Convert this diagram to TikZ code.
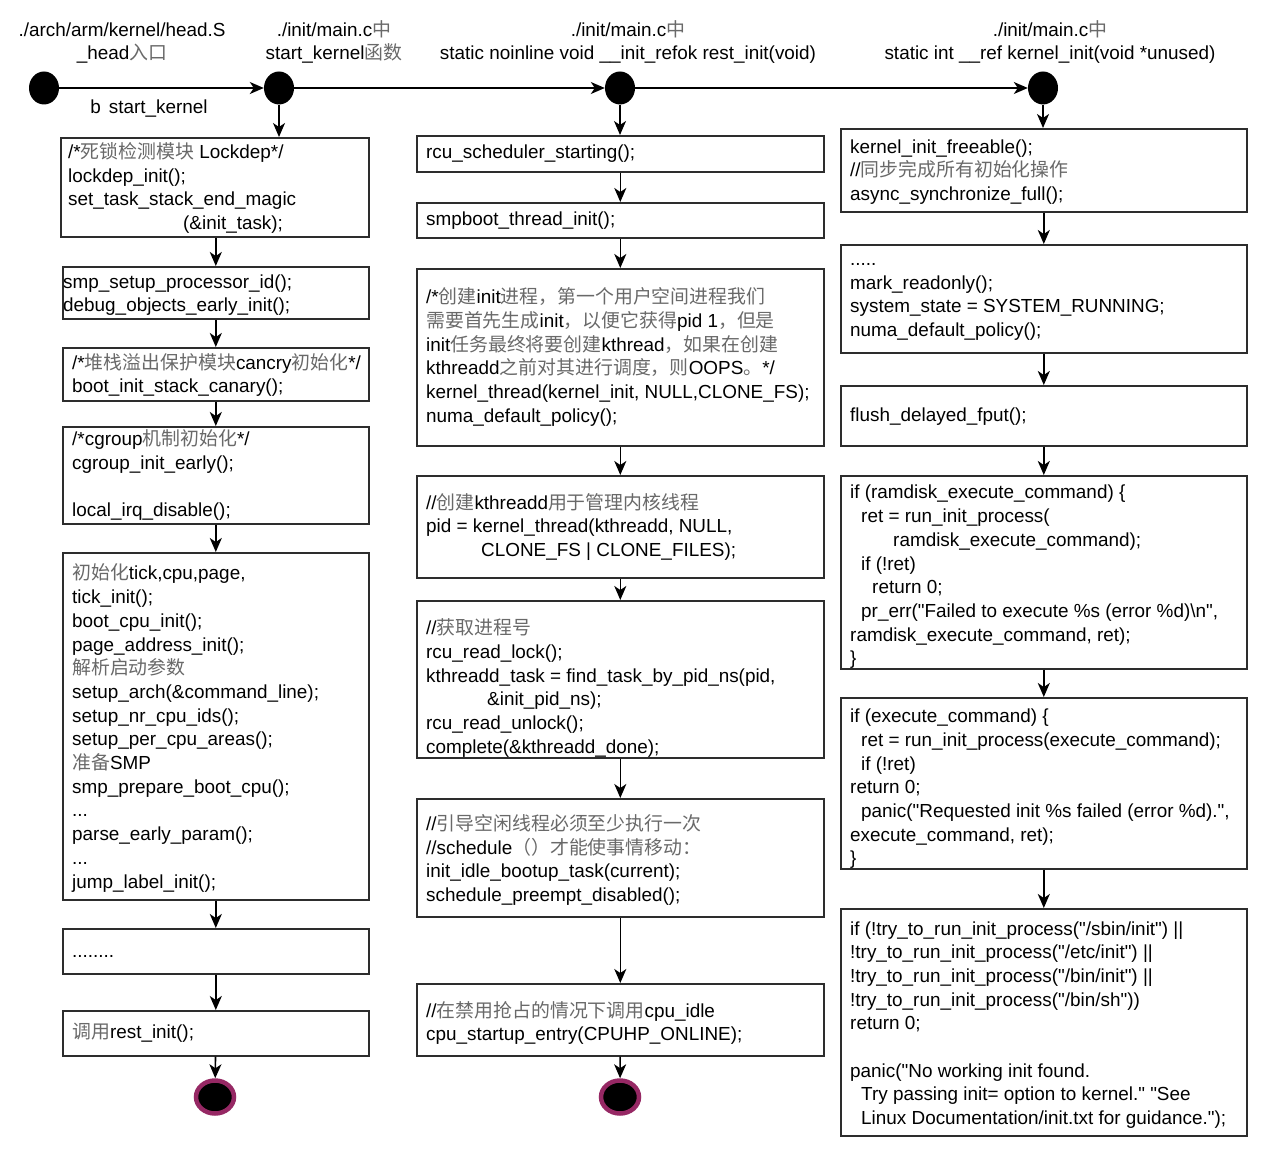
\documentclass[tikz,border=0pt]{standalone}
\usepackage{fontspec}
\newfontfamily\codef{Liberation Sans}
\newfontfamily\cjkf{Noto Sans CJK SC}
\usetikzlibrary{arrows.meta,shapes.geometric}
\definecolor{zhgray}{RGB}{105,105,105}
\definecolor{edgec}{RGB}{45,45,45}
\definecolor{ringc}{RGB}{150,40,100}
\newcommand\zhc[1]{{\cjkf\color{zhgray}#1}}
\begin{document}
\begin{tikzpicture}[x=1pt,y=-1pt,
  every node/.style={font=\codef\fontsize{18.9}{23.7}\selectfont},
  cbox/.style={draw=edgec, line width=1.6pt, anchor=north west, inner sep=0pt},
  txt/.style={anchor=west, align=left, inner sep=0pt},
  hdr/.style={anchor=base, inner sep=0pt},
  dot/.style={ellipse, fill=black, minimum width=30pt, minimum height=33pt, inner sep=0pt},
  endc/.style={ellipse, fill=black, draw=ringc, line width=4.5pt, minimum width=38pt, minimum height=33pt, inner sep=0pt},
  arr/.style={draw=black, line width=1.6pt, -{Stealth[length=14pt,width=12pt,inset=4pt]}},
]
\useasboundingbox[fill=white] (0,0) rectangle (1274,1155);

% ---------- headers ----------
\node[hdr] (h1a) at (122,37) {./arch/arm/kernel/head.S};
\node[hdr] (h1b) at (122,60) {\_head\zhc{入口}};
\node[hdr] (h2a) at (334,37) {./init/main.c\zhc{中}};
\node[hdr] (h2b) at (334,60) {start\_kernel\zhc{函数}};
\node[hdr] (h3a) at (628,37) {./init/main.c\zhc{中}};
\node[hdr] (h3b) at (628,60) {static noinline void \_\_init\_refok rest\_init(void)};
\node[hdr] (h4a) at (1050,37) {./init/main.c\zhc{中}};
\node[hdr] (h4b) at (1050,60) {static int \_\_ref kernel\_init(void *unused)};

% ---------- top dots ----------
\node[dot] (s0) at (44,88) {};
\node[dot] (s1) at (279,88) {};
\node[dot] (s2) at (620,88) {};
\node[dot] (s3) at (1043,88) {};
\node[hdr] (lbl) at (149,114) {b\hspace{8pt}start\_kernel};

% ---------- column 1 ----------
\node[cbox, minimum width=308pt, minimum height=99pt] (b1) at (60,137) {};
\node[txt] (t1) at (68,188) {/*\zhc{死锁检测模块} Lockdep*/\\lockdep\_init();\\set\_task\_stack\_end\_magic\\\hspace*{115pt}(\&init\_task);};

\node[cbox, minimum width=306pt, minimum height=52pt] (b2) at (62,266) {};
\node[txt] (t2) at (63,295) {smp\_setup\_processor\_id();\\debug\_objects\_early\_init();};

\node[cbox, minimum width=306pt, minimum height=53pt] (b3) at (62,347) {};
\node[txt] (t3) at (72,375) {/*\zhc{堆栈溢出保护模块}cancry\zhc{初始化}*/\\boot\_init\_stack\_canary();};

\node[cbox, minimum width=306pt, minimum height=97pt] (b4) at (62,426) {};
\node[txt] (t4) at (72,475) {/*cgroup\zhc{机制初始化}*/\\cgroup\_init\_early();\\\mbox{}\\local\_irq\_disable();};

\node[cbox, minimum width=306pt, minimum height=347pt] (b5) at (62,552) {};
\node[txt] (t5) at (72,728) {\zhc{初始化}tick,cpu,page,\\tick\_init();\\boot\_cpu\_init();\\page\_address\_init();\\\zhc{解析启动参数}\\setup\_arch(\&command\_line);\\setup\_nr\_cpu\_ids();\\setup\_per\_cpu\_areas();\\\zhc{准备}SMP\\smp\_prepare\_boot\_cpu();\\...\\parse\_early\_param();\\...\\jump\_label\_init();};

\node[cbox, minimum width=306pt, minimum height=45pt] (b6) at (62,928) {};
\node[txt, anchor=base west] (t6) at (72,957) {........};

\node[cbox, minimum width=306pt, minimum height=45pt] (b7) at (62,1010) {};
\node[txt] (t7) at (72,1033) {\zhc{调用}rest\_init();};

\node[endc] (e1) at (215,1097) {};

% ---------- column 2 ----------
\node[cbox, minimum width=407pt, minimum height=36pt] (bA) at (416,135) {};
\node[txt] (tA) at (426,154) {rcu\_scheduler\_starting();};

\node[cbox, minimum width=407pt, minimum height=35pt] (bB) at (416,202) {};
\node[txt] (tB) at (426,221) {smpboot\_thread\_init();};

\node[cbox, minimum width=407pt, minimum height=177pt] (bC) at (416,268) {};
\node[txt] (tC) at (426,357) {/*\zhc{创建}init\zhc{进程，第一个用户空间进程我们}\\\zhc{需要首先生成}init\zhc{，以便它获得}pid 1\zhc{，但是}\\init\zhc{任务最终将要创建}kthread\zhc{，如果在创建}\\kthreadd\zhc{之前对其进行调度，则}OOPS\zhc{。}*/\\kernel\_thread(kernel\_init, NULL,CLONE\_FS);\\numa\_default\_policy();};

\node[cbox, minimum width=407pt, minimum height=102pt] (bD) at (416,475) {};
\node[txt] (tD) at (426,527) {//\zhc{创建}kthreadd\zhc{用于管理内核线程}\\pid = kernel\_thread(kthreadd, NULL,\\\hspace*{55pt}CLONE\_FS | CLONE\_FILES);};

\node[cbox, minimum width=407pt, minimum height=157pt] (bE) at (416,600) {};
\node[txt] (tE) at (426,688) {//\zhc{获取进程号}\\rcu\_read\_lock();\\kthreadd\_task = find\_task\_by\_pid\_ns(pid,\\\hspace*{61pt}\&init\_pid\_ns);\\rcu\_read\_unlock();\\complete(\&kthreadd\_done);};

\node[cbox, minimum width=407pt, minimum height=118pt] (bF) at (416,798) {};
\node[txt] (tF) at (426,860) {//\zhc{引导空闲线程必须至少执行一次}\\//schedule\zhc{（）才能使事情移动：}\\init\_idle\_bootup\_task(current);\\schedule\_preempt\_disabled();};

\node[cbox, minimum width=407pt, minimum height=72pt] (bG) at (416,983) {};
\node[txt] (tG) at (426,1023) {//\zhc{在禁用抢占的情况下调用}cpu\_idle\\cpu\_startup\_entry(CPUHP\_ONLINE);};

\node[endc] (e2) at (620,1097) {};

% ---------- column 3 ----------
\node[cbox, minimum width=406pt, minimum height=83pt] (ba) at (840,128) {};
\node[txt] (ta) at (850,172) {kernel\_init\_freeable();\\//\zhc{同步完成所有初始化操作}\\async\_synchronize\_full();};

\node[cbox, minimum width=406pt, minimum height=108pt] (bb) at (840,244) {};
\node[txt] (tb) at (850,302) {.....\\mark\_readonly();\\system\_state = SYSTEM\_RUNNING;\\numa\_default\_policy();};

\node[cbox, minimum width=406pt, minimum height=60pt] (bc) at (840,385) {};
\node[txt] (tc) at (850,417) {flush\_delayed\_fput();};

\node[cbox, minimum width=406pt, minimum height=193pt] (bd) at (840,475) {};
\node[txt] (td) at (850,577) {if (ramdisk\_execute\_command) \{\\\hspace*{11pt}ret = run\_init\_process(\\\hspace*{43pt}ramdisk\_execute\_command);\\\hspace*{11pt}if (!ret)\\\hspace*{22pt}return 0;\\\hspace*{11pt}pr\_err("Failed to execute \%s (error \%d)\textbackslash n",\\ramdisk\_execute\_command, ret);\\\}};

\node[cbox, minimum width=406pt, minimum height=171pt] (be) at (840,697) {};
\node[txt] (te) at (850,789) {if (execute\_command) \{\\\hspace*{11pt}ret = run\_init\_process(execute\_command);\\\hspace*{11pt}if (!ret)\\return 0;\\\hspace*{11pt}panic("Requested init \%s failed (error \%d).",\\execute\_command, ret);\\\}};

\node[cbox, minimum width=406pt, minimum height=227pt] (bf) at (840,908) {};
\node[txt] (tf) at (850,1025) {if (!try\_to\_run\_init\_process("/sbin/init") ||\\!try\_to\_run\_init\_process("/etc/init") ||\\!try\_to\_run\_init\_process("/bin/init") ||\\!try\_to\_run\_init\_process("/bin/sh"))\\return 0;\\\mbox{}\\panic("No working init found.\\\hspace*{11pt}Try passing init= option to kernel." "See\\\hspace*{11pt}Linux Documentation/init.txt for guidance.");};

% ---------- connectors ----------
\draw[arr] (s0) -- (s1);
\draw[arr] (s1) -- (s2);
\draw[arr] (s2) -- (s3);
\draw[arr] (s1) -- (s1 |- b1.north);
\draw[arr] (b1.south -| b2.north) -- (b2.north);
\draw[arr] (b2) -- (b3);
\draw[arr] (b3) -- (b4);
\draw[arr] (b4) -- (b5);
\draw[arr] (b5) -- (b6);
\draw[arr] (b6) -- (b7);
\draw[arr] (b7) -- (e1);
\draw[arr] (s2) -- (s2 |- bA.north);
\draw[arr] (bA) -- (bB);
\draw[arr] (bB) -- (bC);
\draw[arr] (bC) -- (bD);
\draw[arr] (bD) -- (bE);
\draw[arr] (bE) -- (bF);
\draw[arr] (bF) -- (bG);
\draw[arr] (bG) -- (e2);
\draw[arr] (s3) -- (s3 |- ba.north);
\draw[arr] (ba) -- (bb);
\draw[arr] (bb) -- (bc);
\draw[arr] (bc) -- (bd);
\draw[arr] (bd) -- (be);
\draw[arr] (be) -- (bf);
\end{tikzpicture}
\end{document}
